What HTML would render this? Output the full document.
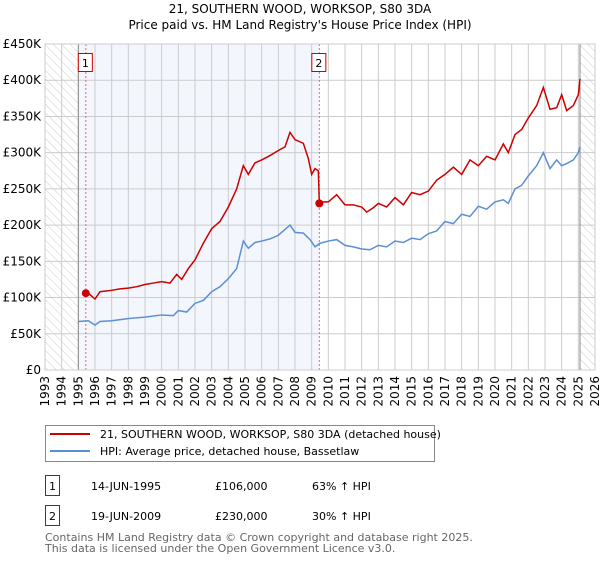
<!DOCTYPE html>
<html><head><meta charset="utf-8"><style>
body{margin:0;background:#fff;font-family:"DejaVu Sans","Liberation Sans",sans-serif;}
svg text{font-family:"DejaVu Sans","Liberation Sans",sans-serif;}
</style></head><body>
<svg id="c" width="600" height="560" viewBox="0 0 600 560" xmlns="http://www.w3.org/2000/svg">
<defs><pattern id="hatch" width="6" height="6" patternUnits="userSpaceOnUse" patternTransform="rotate(-45)"><line x1="0" y1="0" x2="0" y2="6" stroke="#ccc" stroke-width="1"/></pattern></defs>
<text x="300" y="13" text-anchor="middle" font-size="12">21, SOUTHERN WOOD, WORKSOP, S80 3DA</text>
<text x="300" y="29" text-anchor="middle" font-size="12">Price paid vs. HM Land Registry's House Price Index (HPI)</text>
<g id="plot"></g>
<g>
<rect x="45.5" y="425.5" width="389" height="36" fill="#fff" stroke="#888"/>
<line x1="50" y1="434" x2="90" y2="434" stroke="#cc0000" stroke-width="2"/>
<text x="100" y="438" font-size="11">21, SOUTHERN WOOD, WORKSOP, S80 3DA (detached house)</text>
<line x1="50" y1="451" x2="90" y2="451" stroke="#5b8fd4" stroke-width="2"/>
<text x="100" y="455" font-size="11">HPI: Average price, detached house, Bassetlaw</text>
</g>
<g font-size="11">
<rect x="45.5" y="475.5" width="14" height="20" fill="#fff" stroke="#cc0000"/><text x="52.5" y="490" text-anchor="middle">1</text>
<text x="91" y="490">14-JUN-1995</text><text x="215" y="490">£106,000</text><text x="312" y="490">63% ↑ HPI</text>
<rect x="45.5" y="505.5" width="14" height="20" fill="#fff" stroke="#cc0000"/><text x="52.5" y="520" text-anchor="middle">2</text>
<text x="91" y="520">19-JUN-2009</text><text x="215" y="520">£230,000</text><text x="312" y="520">30% ↑ HPI</text>
</g>
<text x="45" y="541" font-size="11" fill="#666">Contains HM Land Registry data © Crown copyright and database right 2025.</text>
<text x="45" y="552" font-size="11" fill="#666">This data is licensed under the Open Government Licence v3.0.</text>
</svg>
<script>
const redYears=[1995.45,1995.7,1996.0,1996.3,1997,1997.5,1998,1998.5,1999,1999.5,2000,2000.5,2000.9,2001.2,2001.6,2002,2002.5,2003,2003.5,2004,2004.5,2004.9,2005.2,2005.6,2006,2006.5,2007,2007.4,2007.7,2008,2008.5,2008.8,2009.0,2009.2,2009.4,2009.46,2009.7,2010,2010.5,2011,2011.5,2012,2012.3,2012.7,2013,2013.5,2014,2014.5,2015,2015.5,2016,2016.5,2017,2017.5,2018,2018.5,2019,2019.5,2020,2020.5,2020.8,2021.2,2021.6,2022,2022.5,2022.9,2023.3,2023.7,2024,2024.3,2024.7,2025,2025.1];
const redValues=[106,104,98,108,110,112,113,115,118,120,122,120,132,125,140,152,175,195,205,225,250,282,270,286,290,296,303,308,328,318,313,292,270,278,275,230,232,232,242,228,228,225,218,224,230,225,238,228,245,242,247,262,270,280,270,290,282,295,290,312,300,325,332,348,365,390,360,362,380,358,365,380,402];
const blueYears=[1995,1995.6,1996,1996.3,1997,1998,1999,2000,2000.7,2001,2001.5,2002,2002.5,2003,2003.5,2004,2004.5,2004.9,2005.2,2005.6,2006,2006.5,2007,2007.7,2008,2008.5,2008.9,2009.2,2009.5,2010,2010.5,2011,2011.5,2012,2012.5,2013,2013.5,2014,2014.5,2015,2015.5,2016,2016.5,2017,2017.5,2018,2018.5,2019,2019.5,2020,2020.5,2020.8,2021.2,2021.6,2022,2022.5,2022.9,2023.3,2023.7,2024,2024.3,2024.7,2025,2025.1];
const blueValues=[67,68,62,67,68,71,73,76,75,82,80,92,96,108,115,126,140,178,168,176,178,181,186,200,190,189,180,170,175,178,180,172,170,167,166,172,170,178,176,182,180,188,192,205,202,215,212,226,222,232,235,230,250,255,268,282,300,278,290,282,285,290,300,308];
const yTicks=[0,50,100,150,200,250,300,350,400,450];
const yTickLabels=["£0","£50K","£100K","£150K","£200K","£250K","£300K","£350K","£400K","£450K"];
const xTicks=[1993,1994,1995,1996,1997,1998,1999,2000,2001,2002,2003,2004,2005,2006,2007,2008,2009,2010,2011,2012,2013,2014,2015,2016,2017,2018,2019,2020,2021,2022,2023,2024,2025,2026];
const saleYears=[1995.45,2009.46];
const saleValues=[106,230];
const saleLabels=["1","2"];

const L=45,R=595,T=44,B=370;
const x=v=>L+(v-1993)/33*(R-L);
const y=v=>B-v/450*(B-T);
const NS="http://www.w3.org/2000/svg";
const g=document.getElementById('plot');
function mk(tag,attrs){const e=document.createElementNS(NS,tag);for(const k in attrs)e.setAttribute(k,attrs[k]);g.appendChild(e);return e;}
let e;
e=mk('rect',{x:L,y:T,width:R-L,height:B-T,fill:'#fff'});


e=mk('rect',{x:x(1995),y:T,width:x(2009.46)-x(1995),height:B-T,fill:'#f3f6fd'});


e=mk('rect',{x:L,y:T,width:x(1995)-L,height:B-T,fill:'url(#hatch)'});


e=mk('rect',{x:x(2025.1),y:T,width:R-x(2025.1),height:B-T,fill:'url(#hatch)'});


yTicks.forEach((v,i)=>{
 e=mk('line',{x1:L,x2:R,y1:y(v),y2:y(v),stroke:'#ccc','stroke-width':1});
 
 
 e=mk('text',{x:L-4,y:y(v)+4,'text-anchor':'end','font-size':12});
 e.textContent=yTickLabels[i];
 
 
});
xTicks.forEach(v=>{
 e=mk('line',{x1:x(v),x2:x(v),y1:T,y2:B,stroke:'#ccc','stroke-width':1});
 
 
 e=mk('text',{x:0,y:0,'text-anchor':'end','font-size':12,transform:`translate(${x(v)+4},${B+6}) rotate(-90)`});
 e.textContent=v;
 
 
});
e=mk('line',{x1:x(1995),x2:x(1995),y1:T,y2:B,stroke:'#888','stroke-width':1});


e=mk('line',{x1:x(2025.1),x2:x(2025.1),y1:T,y2:B,stroke:'#888','stroke-width':1});


saleYears.forEach((v,i)=>{
 e=mk('line',{x1:x(v),x2:x(v),y1:T,y2:B,stroke:'#e66','stroke-width':1,'stroke-dasharray':'2,2'});
 
 
 e=mk('rect',{x:x(v)-7.5,y:53.5,width:14,height:18,fill:'#fff',stroke:'#cc0000'});
 
 
 e=mk('text',{x:x(v)-0.5,y:67,'text-anchor':'middle','font-size':11});
 e.textContent=saleLabels[i];
 
 
});
e=mk('polyline',{points:blueYears.map((v,i)=>x(v)+','+y(blueValues[i])).join(' '),fill:'none',stroke:'#5b8fd4','stroke-width':1.5});


e=mk('polyline',{points:redYears.map((v,i)=>x(v)+','+y(redValues[i])).join(' '),fill:'none',stroke:'#cc0000','stroke-width':1.5});


saleYears.forEach((v,i)=>{
 e=mk('circle',{cx:x(v),cy:y(saleValues[i]),r:4,fill:'#cc0000'});
 
 
});
e=mk('rect',{x:L,y:T,width:R-L,height:B-T,fill:'none',stroke:'#ccc'});


</script>
</body></html>
